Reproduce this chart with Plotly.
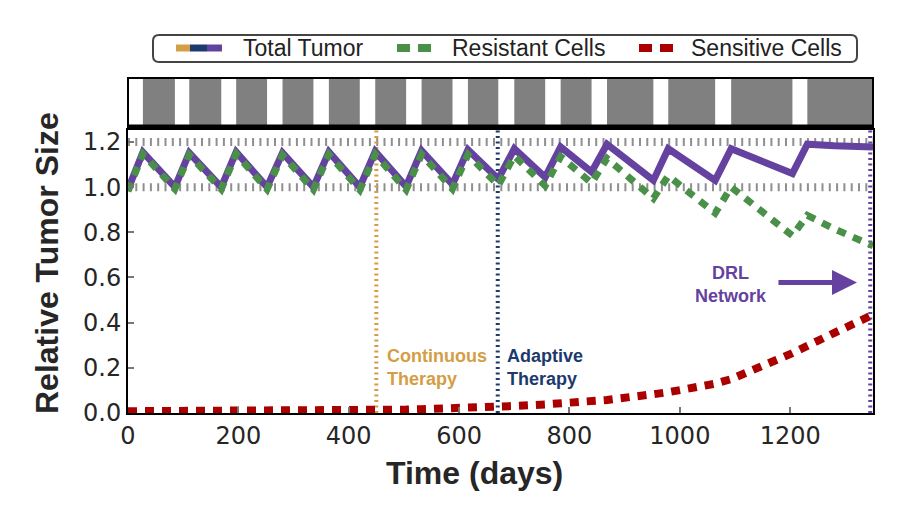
import plotly.graph_objects as go

# ---------------- data ----------------
days = [0, 27, 85, 111, 169, 196, 252, 280, 336, 364, 420, 448, 504, 532, 588,
        616, 671, 700, 756, 784, 840, 868, 952, 979, 1064, 1093, 1204, 1231, 1280, 1350]
total_tumor = [0.99, 1.155, 1.0, 1.152, 1.0, 1.156, 1.0, 1.152, 1.0, 1.156, 1.0, 1.158, 1.003,
               1.162, 1.012, 1.166, 1.036, 1.17, 1.044, 1.178, 1.067, 1.19, 1.03, 1.17, 1.03,
               1.17, 1.06, 1.19, 1.183, 1.178]
resistant = [0.982, 1.147, 0.992, 1.143, 0.991, 1.147, 0.99, 1.142, 0.989, 1.145, 0.988, 1.145,
             0.988, 1.145, 0.992, 1.144, 1.008, 1.139, 1.006, 1.135, 1.018, 1.127, 0.95, 1.05,
             0.885, 1.0, 0.785, 0.875, 0.815, 0.74]
sensitive = [0.008, 0.008, 0.008, 0.009, 0.009, 0.009, 0.010, 0.010, 0.011, 0.011, 0.012, 0.013,
             0.015, 0.017, 0.020, 0.022, 0.028, 0.031, 0.038, 0.043, 0.052, 0.058, 0.083, 0.092,
             0.130, 0.150, 0.265, 0.300, 0.355, 0.435]

# treatment-on windows (grey blocks of the top strip)
on_start = [27, 111, 196, 280, 364, 448, 532, 616, 700, 784, 868, 979, 1093, 1231]
on_end = [85, 169, 252, 336, 420, 504, 588, 671, 756, 840, 952, 1064, 1204, 1350]

x_ticks = [0, 200, 400, 600, 800, 1000, 1200]
y_ticks = [0.0, 0.2, 0.4, 0.6, 0.8, 1.0, 1.2]
thresholds = [1.0, 1.2]
x_range = [0, 1350]
y_range = [0, 1.253]

progression_days = [450, 670, 1345]
progression_names = ["Continuous<br>Therapy", "Adaptive<br>Therapy", "DRL<br>Network"]

# ---------------- styles ----------------
ORANGE = "#D39E45"
NAVY = "#1C3A6C"
PURPLE = "#6542A0"
GREEN = "#4A9048"
RED = "#AA0000"
BAR_GREY = "#808080"
strategy_colors = [ORANGE, NAVY, PURPLE]

TICK_FONT = dict(family="DejaVu Sans", size=24, color="#262626")
BOLD = "Liberation Sans"

# the page body adds an 8px margin, so the figure is 8px smaller than the window
OFF = 8
WIN_W, WIN_H = 908, 524
W, H = WIN_W - OFF, WIN_H - OFF
PLOT_L, PLOT_R, PLOT_T, PLOT_B = 128, 873, 78, 413   # window pixels
L, R, T, B = PLOT_L - OFF, WIN_W - PLOT_R, PLOT_T - OFF, WIN_H - PLOT_B
PW, PH = PLOT_R - PLOT_L, PLOT_B - PLOT_T


def px_x(px):
    return (px - PLOT_L) / PW


def px_y(py):
    return (PLOT_B - py) / PH


fig = go.Figure()

# top strip: treatment windows
fig.add_trace(go.Bar(
    x=[(s + e) / 2 for s, e in zip(on_start, on_end)],
    width=[e - s for s, e in zip(on_start, on_end)],
    y=[1] * len(on_start), base=0, yaxis="y2", xaxis="x",
    marker=dict(color=BAR_GREY, line=dict(width=0)),
    hoverinfo="skip", showlegend=False))

fig.add_trace(go.Scatter(x=days, y=total_tumor, mode="lines",
                         line=dict(color=PURPLE, width=7), showlegend=False))
fig.add_trace(go.Scatter(x=days, y=resistant, mode="lines",
                         line=dict(color=GREEN, width=7, dash="9px,8px"), showlegend=False))
fig.add_trace(go.Scatter(x=days, y=sensitive, mode="lines",
                         line=dict(color=RED, width=8, dash="9px,8px"), showlegend=False))

shapes = []
for th in thresholds:
    shapes.append(dict(type="line", xref="x domain", yref="y", x0=0, x1=1, y0=th, y1=th,
                       line=dict(color="#8F8F8F", width=8, dash="2px,5.3px"), layer="below"))
for d, c in zip(progression_days, strategy_colors):
    shapes.append(dict(type="line", xref="x", yref="y domain", x0=d, x1=d, y0=0, y1=1,
                       line=dict(color=c, width=4, dash="2px,3.5px"), layer="below"))

# frame of the top strip
shapes.append(dict(type="rect", xref="x domain", yref="y2 domain", x0=0, x1=1, y0=0, y1=1,
                   line=dict(color="black", width=2)))
shapes.append(dict(type="line", xref="x domain", yref="y2 domain", x0=0, x1=1, y0=0, y1=0,
                   line=dict(color="black", width=5)))

# legend box (rounded)
lw, lh, r = 352, 13.5, 6
legend_path = (f"M{-lw + r},{-lh} L{lw - r},{-lh} Q{lw},{-lh} {lw},{-lh + r} L{lw},{lh - r} "
               f"Q{lw},{lh} {lw - r},{lh} L{-lw + r},{lh} Q{-lw},{lh} {-lw},{lh - r} "
               f"L{-lw},{-lh + r} Q{-lw},{-lh} {-lw + r},{-lh} Z")
shapes.append(dict(type="path", xref="paper", yref="paper", xsizemode="pixel", ysizemode="pixel",
                   xanchor=px_x(505), yanchor=px_y(48.5), path=legend_path,
                   line=dict(color="#444444", width=2), fillcolor="white"))

legend_y = px_y(48)
for x0, x1, c in [(176, 190, ORANGE), (190, 207, NAVY), (207, 222, PURPLE)]:
    shapes.append(dict(type="line", xref="paper", yref="paper", x0=px_x(x0), x1=px_x(x1),
                       y0=legend_y, y1=legend_y, line=dict(color=c, width=7)))
shapes.append(dict(type="line", xref="paper", yref="paper", x0=px_x(397), x1=px_x(431),
                   y0=legend_y, y1=legend_y, line=dict(color=GREEN, width=8, dash="13px,8px")))
shapes.append(dict(type="line", xref="paper", yref="paper", x0=px_x(639), x1=px_x(673),
                   y0=legend_y, y1=legend_y, line=dict(color=RED, width=8, dash="13px,8px")))

annotations = []
for txt, xl in [("Total Tumor", 241), ("Resistant Cells", 450), ("Sensitive Cells", 689)]:
    annotations.append(dict(text=txt, xref="paper", yref="paper", x=px_x(xl), y=legend_y,
                            xanchor="left", yanchor="middle", showarrow=False,
                            font=dict(family="Liberation Sans", size=23, color="#222222")))

# strategy labels
annotations.append(dict(text=progression_names[0], x=466, y=0.2, xref="x", yref="y",
                        xanchor="left", yanchor="middle", align="left", showarrow=False,
                        font=dict(family=BOLD, size=18, color=ORANGE, weight="bold")))
annotations.append(dict(text=progression_names[1], x=683, y=0.2, xref="x", yref="y",
                        xanchor="left", yanchor="middle", align="left", showarrow=False,
                        font=dict(family=BOLD, size=18, color=NAVY, weight="bold")))
annotations.append(dict(text=progression_names[2], x=1093, y=0.57, xref="x", yref="y",
                        xanchor="center", yanchor="middle", align="center", showarrow=False,
                        font=dict(family=BOLD, size=18, color=PURPLE, weight="bold")))
annotations.append(dict(text="", x=1321, y=0.578, ax=1176, ay=0.578, xref="x", yref="y",
                        axref="x", ayref="y", showarrow=True, arrowhead=2, arrowsize=1.0,
                        arrowwidth=5, arrowcolor=PURPLE))

# axis titles
annotations.append(dict(text="Time (days)", xref="paper", yref="paper", x=px_x(474), y=px_y(473),
                        xanchor="center", yanchor="middle", showarrow=False,
                        font=dict(family=BOLD, size=32, color="#262626", weight="bold")))
annotations.append(dict(text="Relative Tumor Size", xref="paper", yref="paper", x=px_x(47),
                        y=px_y(263), xanchor="center", yanchor="middle", textangle=-90,
                        showarrow=False,
                        font=dict(family=BOLD, size=32, color="#262626", weight="bold")))

main_top = px_y(130)
strip_bottom = px_y(127)

fig.update_layout(
    width=W, height=H,
    margin=dict(l=L, r=R, t=T, b=B, pad=0),
    plot_bgcolor="white", paper_bgcolor="white",
    showlegend=False,
    xaxis=dict(range=x_range, tickvals=x_ticks, ticktext=[str(v) for v in x_ticks],
               ticks="inside", ticklen=6, tickwidth=1.5, tickcolor="#777777",
               showgrid=False, zeroline=False, showline=True, linecolor="black",
               linewidth=2, mirror=True, tickfont=TICK_FONT, anchor="y"),
    yaxis=dict(domain=[0, main_top], range=y_range, tickvals=y_ticks,
               ticktext=[f"{v:.1f}" for v in y_ticks],
               ticks="inside", ticklen=6, tickwidth=1.5, tickcolor="#777777",
               showgrid=False, zeroline=False, showline=True, linecolor="black",
               linewidth=2, mirror=True, tickfont=TICK_FONT, anchor="x"),
    yaxis2=dict(domain=[strip_bottom, 1], range=[0, 1], anchor="x", visible=False,
                showgrid=False, zeroline=False),
    shapes=shapes, annotations=annotations,
)

fig.write_html("out.html")
